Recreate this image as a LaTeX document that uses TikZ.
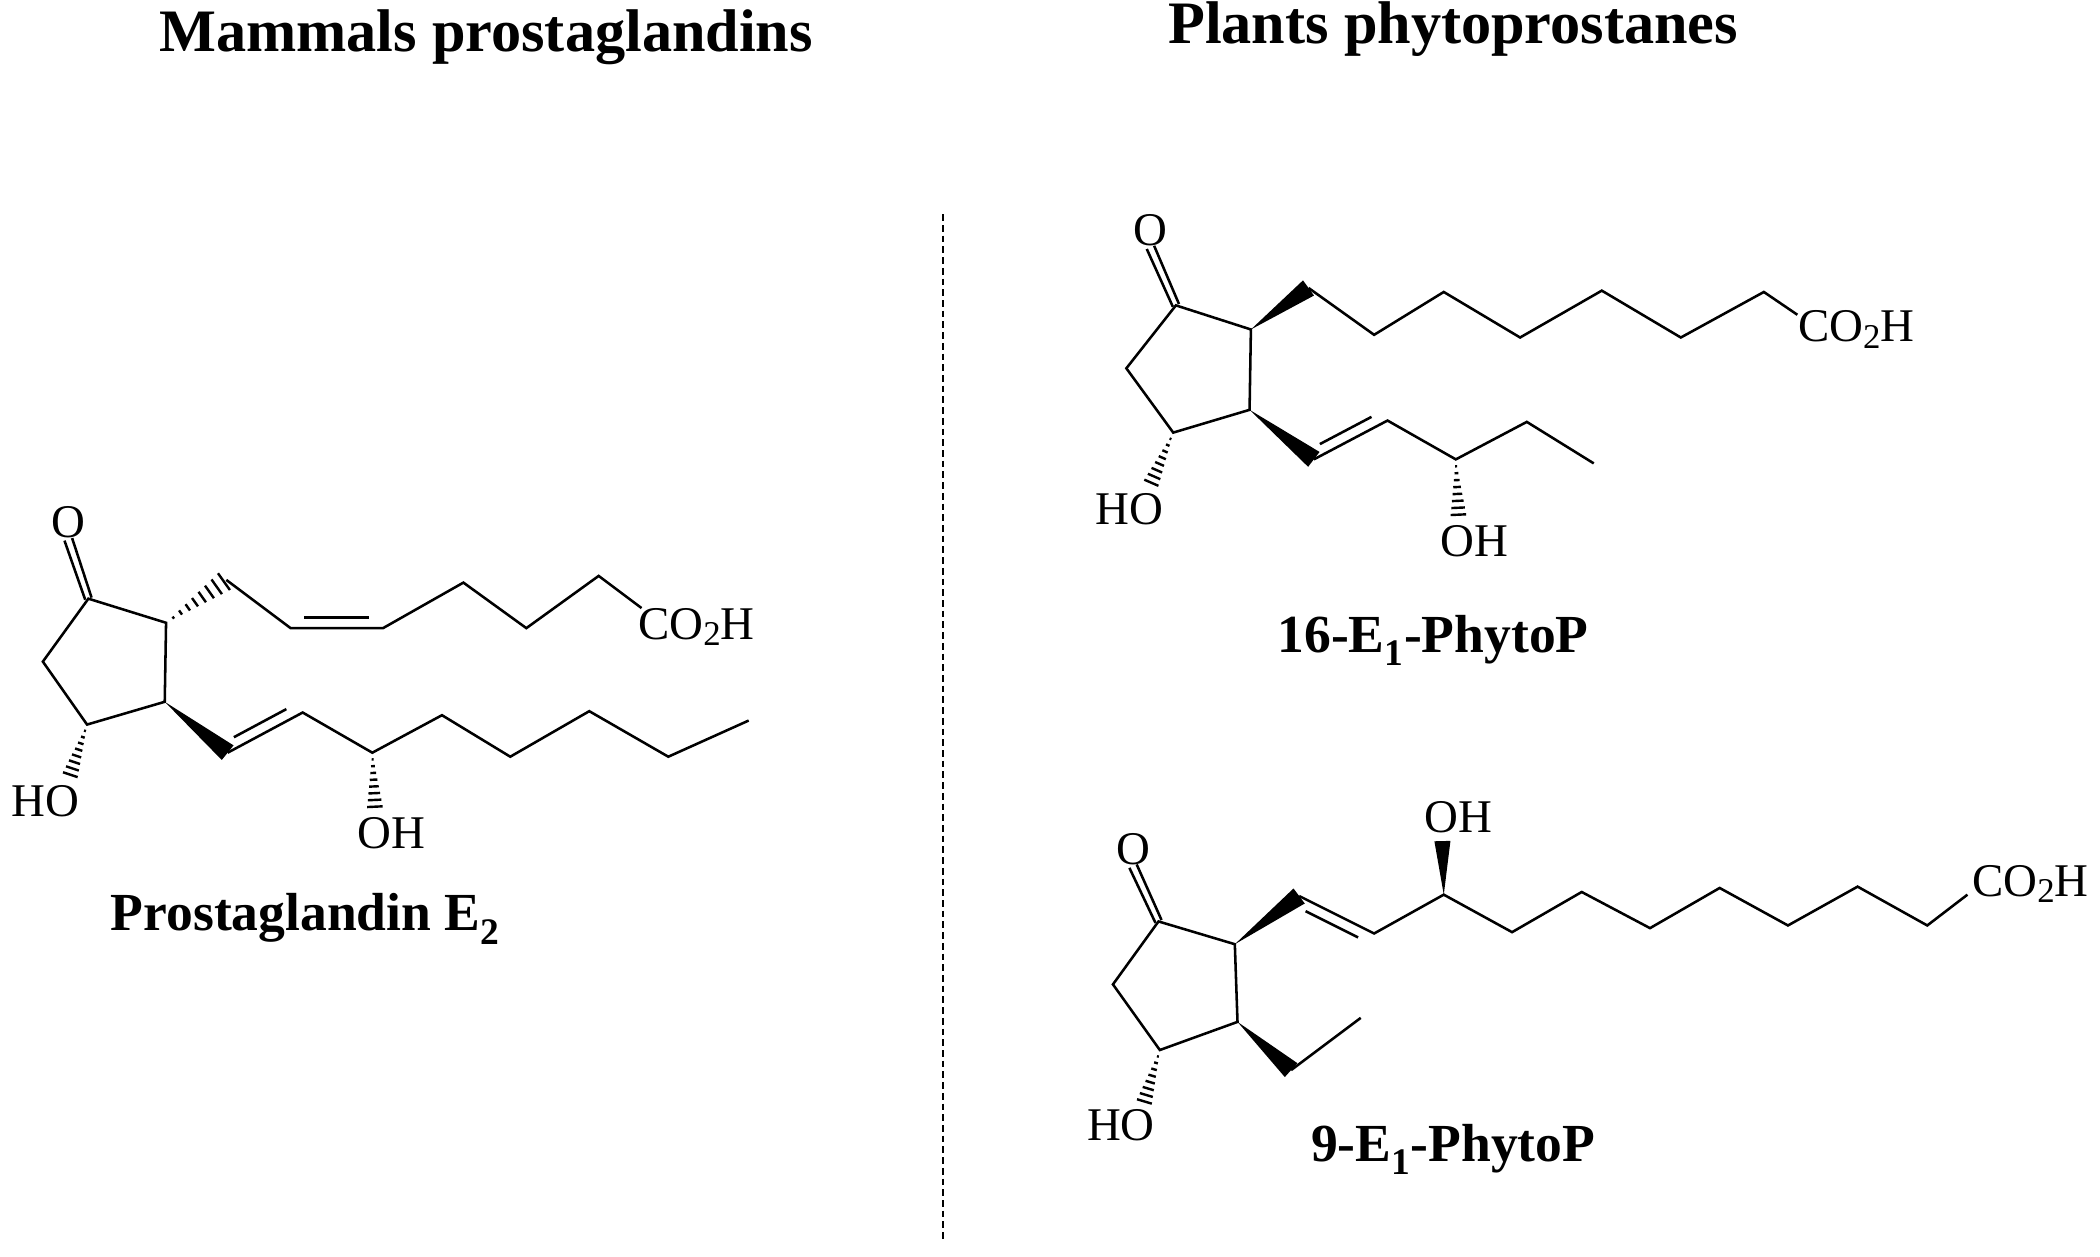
\documentclass[tikz,border=0pt]{standalone}
\usepackage{fontspec}
\setmainfont{Liberation Serif}
\usetikzlibrary{calc}
\newcommand\hashb[3][8]{\foreach \t in {0.12,0.24,...,1.0}{\draw[line width=1.8pt] ($(#2)!\t!(#3)!{\t*#1pt}!90:(#3)$) -- ($(#2)!\t!(#3)!{\t*#1pt}!-90:(#3)$);}}
\newcommand\wedgeb[3][7]{\fill (#2) -- ($(#3)!#1pt!90:(#2)$) -- ($(#3)!#1pt!-90:(#2)$) -- cycle;}
\newcommand\innerb[3]{\draw ($(#1)!0.15!(#2)!8pt!#3:(#2)$) -- ($(#2)!0.15!(#1)!8pt!-#3:(#1)$);}
\newcommand\cotwoh{CO\raisebox{-0.3ex}{\fontsize{26}{26}\selectfont 2}H}
\begin{document}
\begin{tikzpicture}[x=1pt,y=-1pt,line width=1.9pt,line join=miter,
  atom/.style={font=\fontsize{35}{36}\selectfont,inner sep=0pt},
  ttl/.style={font=\fontsize{45}{46}\selectfont\bfseries},
  nm/.style={font=\fontsize{40}{42}\selectfont\bfseries}]
\useasboundingbox (0,0) rectangle (1568,938);
\node[ttl] (t1) at (363,28) {Mammals prostaglandins};
\node[ttl] (t2) at (1085,22) {Plants phytoprostanes};
\draw[line width=1.3pt,dash pattern=on 5pt off 3pt] (704,160) coordinate (d1) -- (704,925) coordinate (d2);
% ---------- PGE2
\node[atom] (o1) at (51,390) {O};
\node[atom] (ho1) at (34,598) {HO};
\node[atom] (oh1) at (292,622) {OH};
\node[atom] (co1) at (520,468) {\cotwoh};
\node[nm] (n1) at (228,686) {Prostaglandin E\textsubscript{2}};
\coordinate (a1) at (66,447); \coordinate (a2) at (124,465); \coordinate (a3) at (123,524);
\coordinate (a4) at (65,541); \coordinate (a5) at (32,494);
\draw (a1)--(a2)--(a3)--(a4)--(a5)--cycle;
\draw ($(a1)!2.5pt!90:(o1.south)$) -- ($(o1.south)!3pt!-90:(a1)$);
\draw ($(a1)!2.5pt!-90:(o1.south)$) -- ($(o1.south)!3pt!90:(a1)$);
\coordinate (b1) at (169,433); \coordinate (b2) at (217,469); \coordinate (b3) at (286,469);
\coordinate (b4) at (346,435); \coordinate (b5) at (393,469); \coordinate (b6) at (447,430);
\coordinate (b7) at (479,454);
\hashb{a2}{b1}
\draw (b1)--(b2)--(b3)--(b4)--(b5)--(b6)--(b7);
\innerb{b2}{b3}{90}
\coordinate (c1) at (170,562); \coordinate (c2) at (226,532); \coordinate (c3) at (278,562);
\coordinate (c4) at (330,534); \coordinate (c5) at (381,565); \coordinate (c6) at (440,531);
\coordinate (c7) at (499,565); \coordinate (c8) at (559,538);
\wedgeb{a3}{c1}
\draw (c1)--(c2)--(c3)--(c4)--(c5)--(c6)--(c7)--(c8);
\innerb{c1}{c2}{90}
\coordinate (h1) at (280,604); \hashb[6]{c3}{h1}
\coordinate (h2) at (52,580); \hashb[6]{a4}{h2}
% ---------- 16-E1-PhytoP
\node[atom] (o2) at (859,172) {O};
\node[atom] (ho2) at (843,380) {HO};
\node[atom] (oh2) at (1101,404) {OH};
\node[atom] (co2) at (1386,246) {\cotwoh};
\node[nm] (n2) at (1070,478) {16-E\textsubscript{1}-PhytoP};
\coordinate (p1) at (878,228); \coordinate (p2) at (934,246); \coordinate (p3) at (933,306);
\coordinate (p4) at (876,323); \coordinate (p5) at (841,275);
\draw (p1)--(p2)--(p3)--(p4)--(p5)--cycle;
\draw ($(p1)!2.5pt!90:(o2.south)$) -- ($(o2.south)!3pt!-90:(p1)$);
\draw ($(p1)!2.5pt!-90:(o2.south)$) -- ($(o2.south)!3pt!90:(p1)$);
\coordinate (q1) at (977,215); \coordinate (q2) at (1026,250); \coordinate (q3) at (1078,218);
\coordinate (q4) at (1135,252); \coordinate (q5) at (1196,217); \coordinate (q6) at (1255,252);
\coordinate (q7) at (1317,218); \coordinate (q8) at (1342,235);
\wedgeb{p2}{q1}
\draw (q1)--(q2)--(q3)--(q4)--(q5)--(q6)--(q7)--(q8);
\coordinate (r1) at (981,343); \coordinate (r2) at (1036,314); \coordinate (r3) at (1087,343);
\coordinate (r4) at (1140,315); \coordinate (r5) at (1190,346);
\wedgeb{p3}{r1}
\draw (r1)--(r2)--(r3)--(r4)--(r5);
\innerb{r1}{r2}{90}
\coordinate (h3) at (1089,386); \hashb[6]{r3}{h3}
\coordinate (h4) at (859,362); \hashb[6]{p4}{h4}
% ---------- 9-E1-PhytoP
\node[atom] (o3) at (846,634) {O};
\node[atom] (ho3) at (837,840) {HO};
\node[atom] (oh3) at (1089,610) {OH};
\node[atom] (co3) at (1516,660) {\cotwoh};
\node[nm] (n3) at (1085,858) {9-E\textsubscript{1}-PhytoP};
\coordinate (s1) at (865,688); \coordinate (s2) at (922,705); \coordinate (s3) at (924,763);
\coordinate (s4) at (866,784); \coordinate (s5) at (831,735);
\draw (s1)--(s2)--(s3)--(s4)--(s5)--cycle;
\draw ($(s1)!2.5pt!90:(o3.south)$) -- ($(o3.south)!3pt!-90:(s1)$);
\draw ($(s1)!2.5pt!-90:(o3.south)$) -- ($(o3.south)!3pt!90:(s1)$);
\coordinate (u1) at (970,669); \coordinate (u2) at (1026,697); \coordinate (u3) at (1078,668);
\coordinate (u4) at (1129,696); \coordinate (u5) at (1181,666); \coordinate (u6) at (1232,693);
\coordinate (u7) at (1284,663); \coordinate (u8) at (1335,691); \coordinate (u9) at (1387,662);
\coordinate (u10) at (1439,691); \coordinate (u11) at (1469,668);
\wedgeb{s2}{u1}
\draw (u1)--(u2)--(u3)--(u4)--(u5)--(u6)--(u7)--(u8)--(u9)--(u10)--(u11);
\innerb{u1}{u2}{-90}
\coordinate (w1) at (1077,628); \wedgeb[6]{u3}{w1}
\coordinate (v1) at (964,799); \coordinate (v2) at (1016,760);
\wedgeb{s3}{v1}
\draw (v1)--(v2);
\coordinate (h5) at (854,824); \hashb[6]{s4}{h5}
\end{tikzpicture}
\end{document}
